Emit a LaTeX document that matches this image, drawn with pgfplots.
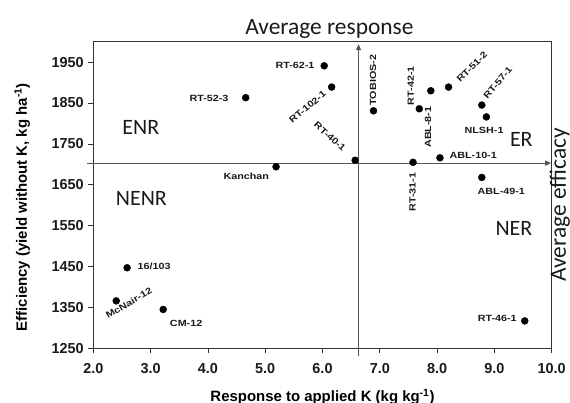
\documentclass[border=0pt]{standalone}
\usepackage{pgfplots}
\pgfplotsset{compat=1.18}
\usepackage{graphicx}
\usepackage{fontspec}
\setmainfont{Liberation Sans}
\newfontfamily\carlito{Carlito}
\usetikzlibrary{arrows.meta}
\definecolor{framec}{HTML}{333333}
\definecolor{avgc}{HTML}{555555}
\definecolor{txtc}{HTML}{1A1A1A}
\newcommand{\pl}[1]{\scalebox{1.2}[1]{\fontsize{9}{9}\selectfont\bfseries #1}}
\begin{document}
\begin{tikzpicture}
\useasboundingbox (0,0) rectangle (570bp,403bp);
\begin{axis}[
  at={(93.3bp,54.7bp)}, anchor=south west,
  width=458.4bp, height=306.6bp, scale only axis,
  xmin=2, xmax=10, ymin=1250, ymax=2000,
  xtick={2,3,4,5,6,7,8,9,10},
  ytick={1250,1350,1450,1550,1650,1750,1850,1950},
  xticklabel style={yshift=-7bp, /pgf/number format/.cd,fixed,fixed zerofill,precision=1},
  /pgf/number format/assume math mode=true,
  /pgf/number format/1000 sep={},
  tick label style={font=\fontsize{14.5}{14.5}\selectfont\bfseries, text=txtc},
  tick pos=left, tick align=outside,
  major tick length=5bp,
  tick style={framec, line width=0.8pt},
  axis line style={framec, line width=1.3pt},
  clip=false,
  xlabel={\fontsize{15}{15}\selectfont\bfseries Response to applied K (kg kg\textsuperscript{-1})},
  ylabel={\fontsize{15}{15}\selectfont\bfseries Efficiency (yield without K, kg ha\textsuperscript{-1})},
  xlabel style={at={(axis description cs:0.5,-0.159)}, anchor=center},
  ylabel style={at={(axis description cs:-0.155,0.46)}, anchor=center},
  yticklabel style={xshift=-1bp},
]
% average lines
\draw[avgc, line width=1.1pt, -{Triangle[length=6bp,width=5bp]}] (axis cs:1.89,1703) -- (axis cs:9.99,1703);
\draw[avgc, line width=1.1pt, -{Triangle[length=6bp,width=5bp]}] (axis cs:6.63,1231) -- (axis cs:6.63,1994);

\addplot[only marks, mark=*, mark size=3.5bp, black] coordinates {
 (6.03,1941) (6.16,1889) (4.66,1863) (6.89,1831) (6.57,1710) (5.19,1694)
 (7.69,1836) (7.89,1880) (8.20,1889) (8.78,1845) (8.86,1816)
 (7.58,1705) (8.05,1716) (8.78,1668) (9.53,1317)
 (2.59,1447) (2.40,1366) (3.22,1345)
};

\begin{scope}[every node/.style={text=txtc, inner sep=0pt}]
\node at (axis cs:5.52,1943) {\pl{RT-62-1}};
\node[rotate=40] at (axis cs:5.74,1840) {\pl{RT-102-1}};
\node at (axis cs:4.02,1862) {\pl{RT-52-3}};
\node[rotate=-42] at (axis cs:6.13,1768) {\pl{RT-40-1}};
\node at (axis cs:4.67,1671) {\pl{Kanchan}};
\node[rotate=90] at (axis cs:6.88,1906) {\pl{TOBIOS-2}};
\node[rotate=90] at (axis cs:7.54,1892) {\pl{RT-42-1}};
\node[rotate=90] at (axis cs:7.84,1791) {\pl{ABL-8-1}};
\node[rotate=45] at (axis cs:8.61,1938) {\pl{RT-51-2}};
\node[rotate=50] at (axis cs:9.06,1899) {\pl{RT-57-1}};
\node at (axis cs:8.82,1782) {\pl{NLSH-1}};
\node at (axis cs:8.63,1723) {\pl{ABL-10-1}};
\node at (axis cs:9.12,1633) {\pl{ABL-49-1}};
\node[rotate=90] at (axis cs:7.57,1632) {\pl{RT-31-1}};
\node at (axis cs:9.05,1324) {\pl{RT-46-1}};
\node at (axis cs:3.06,1451) {\pl{16/103}};
\node[rotate=30] at (axis cs:2.62,1361) {\pl{McNair-12}};
\node at (axis cs:3.62,1312) {\pl{CM-12}};
\end{scope}

\begin{scope}[every node/.style={text=txtc, inner sep=0pt, font=\carlito\fontsize{22}{22}\selectfont}]
\node at (axis cs:2.83,1791) {ENR};
\node at (axis cs:2.84,1617) {NENR};
\node at (axis cs:9.47,1760) {ER};
\node at (axis cs:9.34,1544) {NER};
\node[font=\carlito\fontsize{23.5}{23.5}\selectfont] at (axis cs:6.12,2030) {Average response};
\node[rotate=90, font=\carlito\fontsize{23.5}{23.5}\selectfont] at (axis cs:10.14,1601) {Average efficacy};
\end{scope}
\end{axis}
\end{tikzpicture}
\end{document}
